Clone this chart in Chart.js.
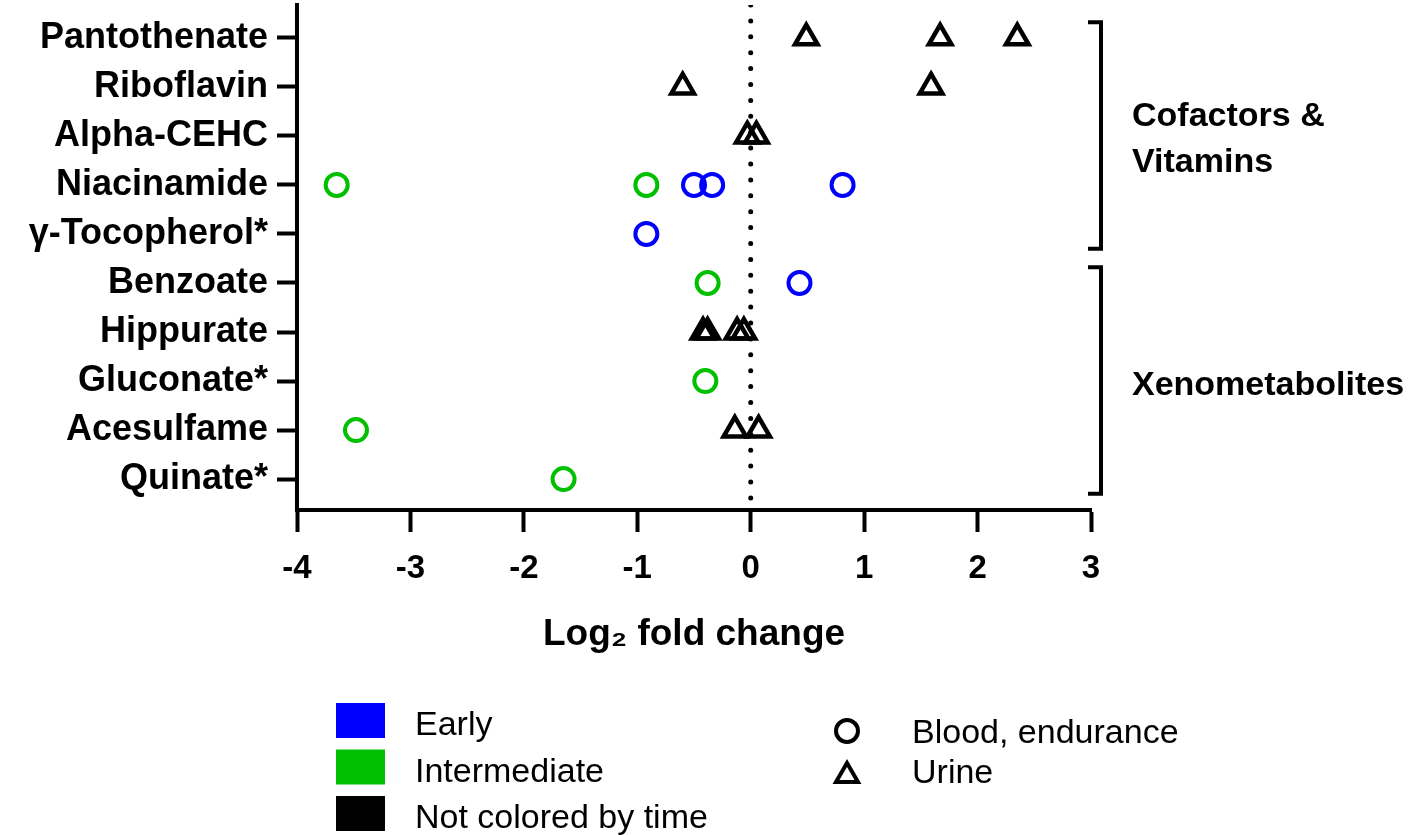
<!DOCTYPE html>
<html>
<head>
<meta charset="utf-8">
<script src="https://cdn.jsdelivr.net/npm/chart.js@4.4.1/dist/chart.umd.min.js"></script>
<style>
  body { margin: 0; background: #fff; }
  canvas { display: block; }
</style>
</head>
<body>
<canvas id="chart" width="1418" height="835"></canvas>
<script>
const metabolites = ['Pantothenate', 'Riboflavin', 'Alpha-CEHC', 'Niacinamide', 'γ-Tocopherol*',
  'Benzoate', 'Hippurate', 'Gluconate*', 'Acesulfame', 'Quinate*'];

// blood, endurance - early (blue)
const earlyNames = ['Niacinamide', 'Niacinamide', 'Niacinamide', 'γ-Tocopherol*', 'Benzoate'];
const earlyFC = [-0.50, -0.34, 0.81, -0.92, 0.43];

// blood, endurance - intermediate (green)
const intermediateNames = ['Niacinamide', 'Niacinamide', 'Benzoate', 'Gluconate*', 'Acesulfame', 'Quinate*'];
const intermediateFC = [-3.65, -0.92, -0.38, -0.40, -3.48, -1.65];

// urine, not colored by time
const urineNames = ['Pantothenate', 'Pantothenate', 'Pantothenate', 'Riboflavin', 'Riboflavin',
  'Alpha-CEHC', 'Alpha-CEHC', 'Hippurate', 'Hippurate', 'Hippurate', 'Hippurate', 'Acesulfame', 'Acesulfame'];
const urineFC = [0.49, 1.67, 2.35, -0.60, 1.59, -0.03, 0.05, -0.42, -0.38, -0.12, -0.06, -0.14, 0.07];

const xTickValues = [-4, -3, -2, -1, 0, 1, 2, 3];

const groupLabels = [['Cofactors &', 'Vitamins'], ['Xenometabolites']];
const groupFirst = ['Pantothenate', 'Benzoate'];
const groupLast = ['γ-Tocopherol*', 'Quinate*'];

const timeLabels = ['Early', 'Intermediate', 'Not colored by time'];
const timeColors = ['#0000ff', '#00c000', '#000000'];
const sampleLabels = ['Blood, endurance', 'Urine'];
const sampleShapes = ['circle', 'triangle'];

function toPoints(names, values) {
  return values.map((v, i) => ({ x: v, y: metabolites.indexOf(names[i]) }));
}

const groupsPlugin = {
  id: 'groups',
  afterDraw(chart) {
    const ctx = chart.ctx;
    const y = chart.scales.y;
    ctx.save();
    ctx.strokeStyle = '#000';
    ctx.fillStyle = '#000';
    ctx.lineWidth = 4;
    ctx.lineCap = 'butt';
    ctx.lineJoin = 'miter';
    for (let g = 0; g < groupLabels.length; g++) {
      const top = y.getPixelForValue(metabolites.indexOf(groupFirst[g]) - 0.32);
      const bottom = y.getPixelForValue(metabolites.indexOf(groupLast[g]) + 0.3);
      ctx.beginPath();
      ctx.moveTo(1088, top);
      ctx.lineTo(1101, top);
      ctx.lineTo(1101, bottom);
      ctx.lineTo(1088, bottom);
      ctx.stroke();
      ctx.font = 'bold 34px "Liberation Sans", Arial, sans-serif';
      ctx.textAlign = 'left';
      ctx.textBaseline = 'alphabetic';
      const lines = groupLabels[g];
      const mid = (top + bottom) / 2;
      const start = mid + 14 - (lines.length - 1) * 23;
      lines.forEach((t, i) => ctx.fillText(t, 1132, start + i * 46));
    }

    // legend
    ctx.font = '34px "Liberation Sans", Arial, sans-serif';
    for (let i = 0; i < timeLabels.length; i++) {
      const top = 703 + i * 46.5;
      ctx.fillStyle = timeColors[i];
      ctx.fillRect(336, top, 49, 35);
      ctx.fillStyle = '#000';
      ctx.fillText(timeLabels[i], 415, top + 32);
    }
    for (let i = 0; i < sampleLabels.length; i++) {
      const cy = 731 + i * 42;
      ctx.lineWidth = 4;
      ctx.beginPath();
      if (sampleShapes[i] === 'circle') {
        ctx.arc(847, cy, 11, 0, Math.PI * 2);
      } else {
        ctx.moveTo(847, cy - 10);
        ctx.lineTo(858, cy + 9);
        ctx.lineTo(836, cy + 9);
        ctx.closePath();
      }
      ctx.stroke();
      ctx.fillText(sampleLabels[i], 912, 743 + i * 40);
    }
    ctx.restore();
  }
};

const circleStyle = { pointStyle: 'circle', pointRadius: 11, pointHoverRadius: 11, pointBorderWidth: 4 };
const triangleStyle = { pointStyle: 'triangle', pointRadius: 13, pointHoverRadius: 13, pointBorderWidth: 4.5 };

new Chart(document.getElementById('chart'), {
  type: 'scatter',
  data: {
    datasets: [
      {
        type: 'line',
        label: 'zero',
        data: [{ x: 0, y: -0.67 }, { x: 0, y: 9.63 }],
        borderColor: '#000',
        borderWidth: 5,
        borderDash: [0, 15.9],
        borderCapStyle: 'round',
        pointRadius: 0,
        order: 10
      },
      Object.assign({
        label: 'Early',
        data: toPoints(earlyNames, earlyFC),
        borderColor: '#0000ff',
        backgroundColor: 'rgba(0,0,0,0)',
        order: 1
      }, circleStyle),
      Object.assign({
        label: 'Intermediate',
        data: toPoints(intermediateNames, intermediateFC),
        borderColor: '#00c000',
        backgroundColor: 'rgba(0,0,0,0)',
        order: 2
      }, circleStyle),
      Object.assign({
        label: 'Urine',
        data: toPoints(urineNames, urineFC),
        borderColor: '#000',
        backgroundColor: 'rgba(0,0,0,0)',
        order: 3
      }, triangleStyle)
    ]
  },
  options: {
    responsive: false,
    animation: false,
    layout: { autoPadding: false, padding: { left: 0, top: 5, right: 327, bottom: 178 } },
    plugins: {
      legend: { display: false },
      tooltip: { enabled: false }
    },
    scales: {
      x: {
        type: 'linear',
        min: -4,
        max: 3,
        afterBuildTicks: (scale) => { scale.ticks = xTickValues.map(v => ({ value: v })); },
        afterFit: (scale) => {
          scale.height = 147;
          scale.paddingLeft = 0;
          scale.paddingRight = 0;
        },
        ticks: {
          color: '#000',
          font: { family: '"Liberation Sans", Arial, sans-serif', size: 33, weight: 'bold' },
          padding: 17,
          maxRotation: 0
        },
        grid: { drawOnChartArea: false, tickLength: 22, tickWidth: 4, tickColor: '#000' },
        border: { color: '#000', width: 4 },
        title: {
          display: true,
          text: 'Log₂ fold change',
          color: '#000',
          font: { family: '"Liberation Sans", Arial, sans-serif', size: 37, weight: 'bold' },
          padding: { top: 0, bottom: 0 }
        }
      },
      y: {
        type: 'linear',
        reverse: true,
        min: -0.67,
        max: 9.63,
        afterBuildTicks: (scale) => { scale.ticks = metabolites.map((m, i) => ({ value: i })); },
        afterFit: (scale) => {
          scale.width = 297;
          scale.paddingTop = 0;
          scale.paddingBottom = 0;
        },
        ticks: {
          color: '#000',
          autoSkip: false,
          font: { family: '"Liberation Sans", Arial, sans-serif', size: 36, weight: 'bold' },
          padding: 9,
          callback: (v) => metabolites[v]
        },
        grid: { drawOnChartArea: false, tickLength: 20, tickWidth: 4, tickColor: '#000' },
        border: { color: '#000', width: 4 }
      }
    }
  },
  plugins: [groupsPlugin]
});
</script>
</body>
</html>
